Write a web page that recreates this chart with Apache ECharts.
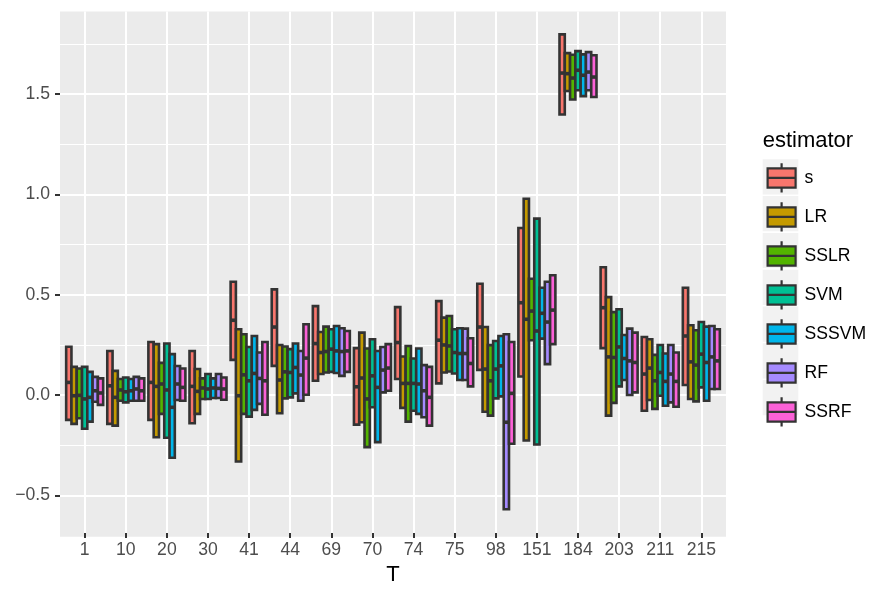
<!DOCTYPE html>
<html><head><meta charset="utf-8">
<script src="https://cdn.jsdelivr.net/npm/echarts@6/dist/echarts.min.js"></script>
<style>html,body{margin:0;padding:0;background:#fff}#c{width:873px;height:591px}</style>
</head><body><div id="c"></div>
<script>
// ---- data ----
const categories = ['1','10','20','30','41','44','69','70','74','75','98','151','184','203','211','215'];
const estimators = ['s','LR','SSLR','SVM','SSSVM','RF','SSRF'];
const colors = ['#F8766D','#C49A00','#53B400','#00C094','#00B6EB','#A58AFF','#FB61D7'];
const yTicks = [-0.5, 0, 0.5, 1.0, 1.5];
const yMinorTicks = [-0.25, 0.25, 0.75, 1.25, 1.75];
// each entry: [lower hinge, median, upper hinge], one per category
const s_box = [[-0.138,0.05,0.229],[-0.158,0.033,0.208],[-0.138,0.05,0.253],[-0.155,0.03,0.208],[0.163,0.362,0.555],[0.133,0.328,0.517],[0.058,0.245,0.433],[-0.162,0.028,0.222],[0.067,0.25,0.428],[0.045,0.262,0.458],[0.113,0.328,0.545],[0.08,0.45,0.825],[1.395,1.603,1.797],[0.222,0.425,0.628],[-0.092,0.092,0.278],[0.037,0.283,0.525]];
const LR_box = [[-0.158,-0.017,0.128],[-0.167,-0.025,0.108],[-0.225,0.03,0.242],[-0.108,0.005,0.117],[-0.347,-0.017,0.317],[-0.105,0.062,0.238],[0.092,0.2,0.303],[-0.15,0.072,0.3],[-0.078,0.045,0.18],[0.1,0.238,0.375],[-0.097,0.117,0.328],[-0.242,0.367,0.972],[1.513,1.6,1.703],[-0.117,0.178,0.478],[-0.038,0.122,0.267],[-0.033,0.153,0.337]];
const SSLR_box = [[-0.13,-0.015,0.12],[-0.042,0.012,0.067],[-0.108,0.042,0.148],[-0.033,0.022,0.07],[-0.108,0.088,0.292],[-0.03,0.103,0.23],[0.1,0.205,0.33],[-0.275,-0.033,0.22],[-0.147,0.045,0.233],[0.105,0.233,0.383],[-0.117,0.058,0.237],[0.262,0.408,0.57],[1.47,1.578,1.695],[-0.053,0.175,0.403],[-0.083,0.058,0.188],[-0.045,0.137,0.312]];
const SVM_box = [[-0.183,-0.033,0.128],[-0.05,0.003,0.075],[-0.228,0.012,0.245],[-0.033,0.017,0.092],[-0.122,0.058,0.228],[-0.025,0.1,0.217],[0.103,0.217,0.317],[-0.075,0.083,0.267],[-0.092,0.045,0.17],[0.095,0.2,0.317],[-0.03,0.117,0.258],[-0.262,0.308,0.872],[1.517,1.617,1.713],[0.03,0.228,0.417],[-0.017,0.1,0.238],[0.025,0.192,0.353]];
const SSSVM_box = [[-0.147,-0.025,0.103],[-0.042,0.008,0.067],[-0.328,-0.075,0.192],[-0.028,0.022,0.07],[-0.088,0.095,0.283],[-0.005,0.125,0.245],[0.097,0.208,0.333],[-0.25,0.025,0.208],[-0.108,0.042,0.22],[0.062,0.195,0.322],[-0.02,0.133,0.283],[0.27,0.397,0.525],[1.487,1.592,1.697],[0.062,0.17,0.288],[-0.067,0.055,0.195],[-0.042,0.15,0.33]];
const RF_box = [[-0.047,0.008,0.078],[-0.042,0.017,0.078],[-0.038,0.042,0.132],[-0.028,0.02,0.092],[-0.058,0.07,0.2],[-0.042,0.087,0.208],[0.083,0.205,0.322],[0.0,0.112,0.228],[-0.125,0.008,0.137],[0.062,0.195,0.32],[-0.587,-0.15,0.292],[0.142,0.353,0.555],[1.517,1.608,1.708],[-0.013,0.158,0.32],[-0.05,0.092,0.238],[0.017,0.178,0.333]];
const SSRF_box = [[-0.063,-0.003,0.07],[-0.042,0.008,0.07],[-0.042,0.025,0.12],[-0.037,0.017,0.075],[-0.112,0.058,0.253],[-0.012,0.172,0.342],[0.103,0.208,0.308],[0.008,0.122,0.242],[-0.167,-0.025,0.128],[0.03,0.145,0.272],[-0.258,-0.005,0.253],[0.242,0.413,0.588],[1.483,1.583,1.692],[0.0,0.15,0.3],[-0.072,0.055,0.2],[0.017,0.158,0.317]];
const boxData = [s_box, LR_box, SSLR_box, SVM_box, SSSVM_box, RF_box, SSRF_box];

// ---- layout ----
const FONT = "'Liberation Sans', Arial, Helvetica, sans-serif";
const yMin = -0.706, yMax = 1.912;
const panel = {left: 60, right: 873 - 726, top: 11.5, bottom: 591 - 536.7};
const bandW = (726 - 60) / 16.2;
const inner = {left: 60 + 0.1 * bandW, right: 873 - (726 - 0.1 * bandW), top: panel.top, bottom: panel.bottom};

const chart = echarts.init(document.getElementById('c'), null, {renderer: 'canvas'});

function makeRender(k) {
  return function (params, api) {
    const ci = api.value(0);
    const lo = api.coord([ci, api.value(1)]);
    const md = api.coord([ci, api.value(2)]);
    const hi = api.coord([ci, api.value(3)]);
    const band = api.size([1, 0])[0];
    const gw = band * 0.9;
    const w = gw / 7;
    const x = lo[0] - gw / 2 + k * w;
    return {
      type: 'group',
      children: [
        {type: 'rect', shape: {x: x, y: hi[1], width: w, height: lo[1] - hi[1]},
         style: {fill: colors[k], stroke: '#333333', lineWidth: 2.6}},
        {type: 'line', shape: {x1: x, y1: md[1], x2: x + w, y2: md[1]},
         style: {stroke: '#333333', lineWidth: 3.6}}
      ]
    };
  };
}

const series = estimators.map((name, k) => ({
  name: name,
  type: 'custom',
  xAxisIndex: 1,
  yAxisIndex: 2,
  itemStyle: {color: colors[k]},
  encode: {x: 0, y: [1, 2, 3]},
  renderItem: makeRender(k),
  data: boxData[k].map((b, i) => [i, b[0], b[1], b[2]])
}));

const iconPath = 'path://M14,0L14,5M0,5L28,5L28,24.3L0,24.3ZM0,14.65L28,14.65M14,24.3L14,29.3';
const keyTop = 159.3, keyPitch = 36.8, keySize = 35.2;
const keyRects = estimators.map((e, i) => ({
  type: 'rect', z: 0,
  shape: {x: 762.7, y: keyTop + i * keyPitch, width: 35.6, height: keySize},
  style: {fill: '#F2F2F2'}
}));

const option = {
  backgroundColor: '#FFFFFF',
  animation: false,
  grid: [
    Object.assign({show: true, backgroundColor: '#EBEBEB', borderWidth: 0}, panel),
    Object.assign({show: false}, inner)
  ],
  xAxis: [
    {gridIndex: 0, type: 'value', show: false, min: 0, max: 1,
     axisLine: {show: false, onZero: false}, axisTick: {show: false}, axisLabel: {show: false}, splitLine: {show: false}},
    {gridIndex: 1, type: 'category', data: categories,
     axisLine: {show: false, onZero: false},
     axisTick: {show: true, alignWithLabel: true, length: 5, lineStyle: {color: '#333333', width: 2}},
     axisLabel: {color: '#4D4D4D', fontSize: 17.6, fontFamily: FONT, margin: 8, interval: 0},
     splitLine: {show: true, alignWithLabel: true, lineStyle: {color: '#FFFFFF', width: 2}},
     name: 'T', nameLocation: 'middle', nameGap: 31,
     nameTextStyle: {color: '#000000', fontSize: 22, fontFamily: FONT}}
  ],
  yAxis: [
    {gridIndex: 0, type: 'value', min: yMin, max: yMax,
     axisLine: {show: false, onZero: false},
     axisTick: {show: true, length: 5, customValues: yTicks, lineStyle: {color: '#333333', width: 2}},
     axisLabel: {show: true, customValues: yTicks, color: '#4D4D4D', fontSize: 17.6, fontFamily: FONT, margin: 10,
       formatter: v => (v < 0 ? '\u2212' : '') + Math.abs(v).toFixed(1)},
     splitLine: {show: true, lineStyle: {color: '#FFFFFF', width: 2}}},
    {gridIndex: 0, type: 'value', min: yMin, max: yMax, position: 'left',
     axisLine: {show: false, onZero: false},
     axisTick: {show: false, customValues: yMinorTicks},
     axisLabel: {show: false, customValues: yMinorTicks},
     splitLine: {show: true, lineStyle: {color: '#FFFFFF', width: 1}}},
    {gridIndex: 1, type: 'value', min: yMin, max: yMax, show: false,
     axisLine: {show: false, onZero: false}, axisTick: {show: false}, axisLabel: {show: false}, splitLine: {show: false}}
  ],
  legend: {
    orient: 'vertical', left: 766.5, top: 162.2, padding: 0,
    itemWidth: 28, itemHeight: 29.3, itemGap: 7.5,
    selectedMode: false,
    itemStyle: {borderColor: '#333333', borderWidth: 2.2},
    textStyle: {color: '#000000', fontSize: 17.6, fontFamily: FONT, padding: [0, 0, 0, 4]},
    data: estimators.map(n => ({name: n, icon: iconPath}))
  },
  graphic: keyRects.concat([
    {type: 'text', x: 762.7, y: 141, z: 1,
     style: {text: 'estimator', fill: '#000000', font: '22px ' + FONT, textAlign: 'left', textVerticalAlign: 'middle'}}
  ]),
  series: series
};
chart.setOption(option);
</script></body></html>
